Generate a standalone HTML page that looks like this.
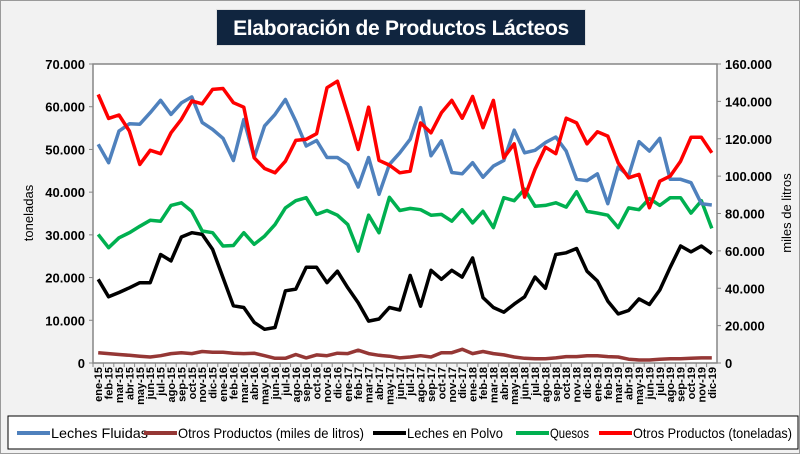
<!DOCTYPE html>
<html><head><meta charset="utf-8"><style>
html,body{margin:0;padding:0;background:#fff}
#wrap{position:relative;width:800px;height:454px;background:#f2f2f2;box-sizing:border-box;border:1px solid #9a9a9a;overflow:hidden;font-family:"Liberation Sans",sans-serif}
#title{position:absolute;left:215px;top:8px;width:370px;height:37px;background:#10253f;color:#fff;font-weight:bold;font-size:21px;line-height:37px;text-align:center;letter-spacing:-0.3px;border:1px solid #e0e0e0;box-sizing:border-box}
svg{position:absolute;left:0;top:0}
</style></head><body>
<div id="wrap">
<div id="title">Elaboración de Productos Lácteos</div>
<svg id="chart" width="800" height="454"></svg>
</div>
<script>
const categories=[];
const monthNames=["ene","feb","mar","abr","may","jun","jul","ago","sep","oct","nov","dic"];
const years=["15","16","17","18","19"];
for(const y of years)for(const m of monthNames)categories.push(m+"-"+y);
const lechesFluidas=[51200,46900,54300,56000,55900,58600,61500,58200,60900,62300,56300,54700,52600,47400,57000,48100,55500,58200,61700,56600,50800,52100,48100,48100,46500,41200,48100,39500,46500,49200,52400,59800,48500,52000,44600,44300,46900,43500,46100,47400,54500,49200,49800,51600,52900,49600,43000,42700,44300,37300,45900,43800,51800,49600,52600,43000,43000,42200,37300,37000];
const otrosLitros=[2400,2200,2000,1800,1600,1400,1700,2200,2400,2200,2700,2500,2500,2300,2200,2300,1700,1100,1100,2000,1200,1900,1700,2300,2200,3000,2200,1800,1600,1200,1400,1700,1400,2400,2400,3200,2200,2700,2200,1900,1400,1100,1000,1000,1200,1500,1500,1700,1700,1500,1400,900,700,700,900,1000,1000,1100,1200,1200];
const lechesPolvo=[19600,15500,16500,17600,18800,18800,25400,23900,29500,30500,30100,26600,20000,13400,13000,9500,7900,8300,16900,17300,22400,22400,18800,21500,17600,14100,9800,10300,13000,12400,20500,13300,21700,19600,21700,20100,24600,15300,13000,11900,13800,15500,20100,17500,25400,25800,26800,21500,19200,14500,11500,12300,15000,13700,17100,22400,27400,26000,27400,25600];
const quesos=[30100,27000,29300,30500,32000,33400,33200,36900,37500,35500,30900,30500,27400,27500,30500,27800,29700,32400,36300,38000,38700,34800,35700,34600,32400,26200,34600,30500,38800,35700,36200,35900,34600,34800,33200,35900,32800,35500,31700,38700,38000,40700,36700,36900,37500,36500,40100,35500,35100,34600,31700,36300,35900,38500,36900,38700,38700,35100,38000,31500];
const otrosToneladas=[143700,130900,132700,124100,106300,113800,112000,123200,130400,140200,138700,146400,146900,139300,136900,109800,104100,101800,108000,119100,119700,122700,147300,150800,133000,114300,136900,108400,105900,101800,102700,128500,123200,133900,140500,131000,142600,125900,140500,109800,117300,88800,103600,115500,112000,131000,128500,117300,123700,121400,107100,99100,100900,83100,97300,100000,108000,120800,120800,112500];
const leftTicks=[0,10000,20000,30000,40000,50000,60000,70000];
const rightTicks=[0,20000,40000,60000,80000,100000,120000,140000,160000];

const svg=document.getElementById('chart');
const NS="http://www.w3.org/2000/svg";
const PL=92,PR=716,PT=63,PB=362;
const xS=i=>PL+(PR-PL)/categories.length*(i+0.5);
const yL=v=>PB-(v/70000)*(PB-PT);
const yR=v=>PB-(v/160000)*(PB-PT);
const fmt=v=>v===0?"0":(v/1000).toFixed(0)+".000";
function mk(tag,attrs,parent){const e=document.createElementNS(NS,tag);for(const k in attrs)e.setAttribute(k,attrs[k]);(parent||svg).appendChild(e);return e;}

const plot=mk('rect',{x:PL,y:PT,width:PR-PL,height:PB-PT,fill:'#fff',stroke:'#868686','stroke-width':1.5});



leftTicks.forEach(v=>{
  const t=mk('text',{x:84,y:yL(v)+5,'text-anchor':'end','font-size':13,'font-weight':'bold',fill:'#000'});
  t.textContent=fmt(v);
  
  
  mk('line',{x1:PL-4,x2:PL,y1:yL(v),y2:yL(v),stroke:'#868686'});
});
rightTicks.forEach(v=>{
  const t=mk('text',{x:724,y:yR(v)+5,'text-anchor':'start','font-size':13,'font-weight':'bold',fill:'#000'});
  t.textContent=fmt(v);
  
  
  mk('line',{x1:PR,x2:PR+4,y1:yR(v),y2:yR(v),stroke:'#868686'});
});
const yt1=mk('text',{x:0,y:0,transform:'translate(32,212) rotate(-90)','text-anchor':'middle','font-size':13,fill:'#000'});
yt1.textContent='toneladas';


const yt2=mk('text',{x:0,y:0,transform:'translate(790,212) rotate(-90)','text-anchor':'middle','font-size':13,fill:'#000'});
yt2.textContent='miles de litros';



categories.forEach((c,i)=>{
  const x=xS(i);
  mk('line',{x1:PL+(PR-PL)/categories.length*i,x2:PL+(PR-PL)/categories.length*i,y1:PB,y2:PB+4,stroke:'#868686'});
  const t=mk('text',{x:0,y:0,transform:`translate(${x+4},366) rotate(-90)`,'text-anchor':'end','font-size':11,'font-weight':'bold',fill:'#000'});
  t.textContent=c;
  
  
});

function series(vals,scale,color,name){
  const d=vals.map((v,i)=>(i?'L':'M')+xS(i).toFixed(1)+','+scale(v).toFixed(1)).join(' ');
  const p=mk('path',{d:d,fill:'none',stroke:color,'stroke-width':3.5,'stroke-linejoin':'round'});
  
  
}
series(otrosLitros,yL,'#953735','series-otros-litros');
series(lechesPolvo,yL,'#000000','series-leches-polvo');
series(quesos,yL,'#00b050','series-quesos');
series(lechesFluidas,yL,'#4f81bd','series-leches-fluidas');
series(otrosToneladas,yR,'#ff0000','series-otros-toneladas');

const lb=mk('rect',{x:7,y:415,width:790,height:33,fill:'#fff',stroke:'#000','stroke-width':1});


const legendNames=['Leches Fluidas','Otros Productos (miles de litros)','Leches en Polvo','Quesos','Otros Productos (toneladas)'];
const legendColors=['#4f81bd','#953735','#000000','#00b050','#ff0000'];
const legendX=[16,143,372,515,598];
const legendW=[97,186,96,39,159];
legendNames.forEach((n,i)=>{
  const x=legendX[i];
  const l=mk('line',{x1:x,x2:x+33,y1:432,y2:432,stroke:legendColors[i],'stroke-width':4});
  
  
  const t=mk('text',{x:x+34,y:437,'font-size':14,fill:'#000',textLength:legendW[i],lengthAdjust:'spacingAndGlyphs'});
  t.textContent=n;
  
  
});
</script>
</body></html>
